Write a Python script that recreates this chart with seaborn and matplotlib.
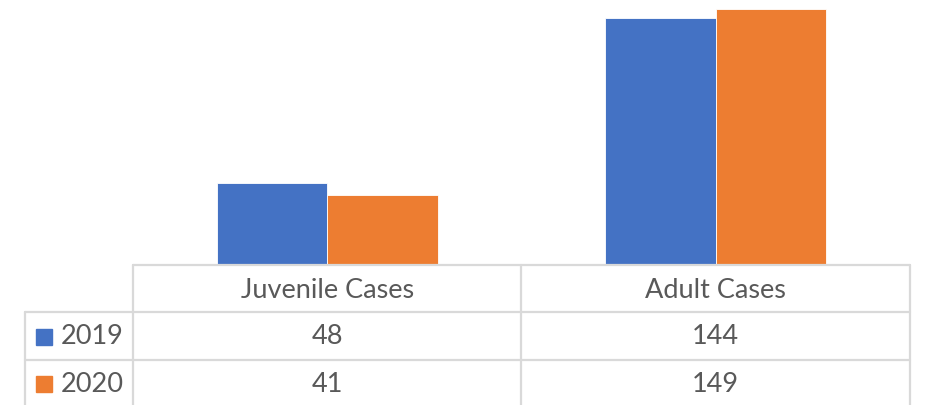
import seaborn as sns
import matplotlib.pyplot as plt
import pandas as pd

categories = ["Juvenile Cases", "Adult Cases"]
years = ["2019", "2020"]
cases_2019 = [48, 144]
cases_2020 = [41, 149]

colors = {"2019": "#4472C4", "2020": "#ED7D31"}
text_color = "#595959"
grid_color = "#D9D9D9"

df = pd.DataFrame({
    "category": categories * 2,
    "year": [years[0]] * 2 + [years[1]] * 2,
    "cases": cases_2019 + cases_2020,
})

sns.set_style("white")
plt.rcParams['font.family'] = ['Lato', 'DejaVu Sans']

W, H = 927, 405
fig = plt.figure(figsize=(W / 100, H / 100), dpi=100)

# pixel layout of the plot area
x0, x1, base = 133, 910, 265
ax = fig.add_axes([x0 / W, (H - base) / H, (x1 - x0) / W, base / H])
sns.barplot(data=df, x="category", y="cases", hue="year", order=categories,
            hue_order=years, palette=colors, width=0.57, edgecolor="white",
            linewidth=0.6, saturation=1, ax=ax)
ax.set_xlim(-0.5, 1.5)
ax.set_ylim(0, 154.2)
ax.get_legend().remove()
ax.set_axis_off()

# data table below the plot, drawn in pixel coordinates
tab = fig.add_axes([0, 0, 1, 1])
tab.set_xlim(0, W)
tab.set_ylim(H, 0)
tab.set_axis_off()

rows_y = [base, 312, 360, H + 5]
left = 25
col_x = [x0 + (x1 - x0) * i / len(categories) for i in range(len(categories) + 1)]
lw = 1.6

# horizontal lines
tab.plot([x0, x1], [rows_y[0], rows_y[0]], color=grid_color, lw=lw)
tab.plot([left, x1], [rows_y[1], rows_y[1]], color=grid_color, lw=lw)
tab.plot([left, x1], [rows_y[2], rows_y[2]], color=grid_color, lw=lw)
# vertical lines
for cx in col_x:
    tab.plot([cx, cx], [rows_y[0], rows_y[3]], color=grid_color, lw=lw)
tab.plot([left, left], [rows_y[1], rows_y[3]], color=grid_color, lw=lw)

fs = 19.5
for i, cat in enumerate(categories):
    cx = (col_x[i] + col_x[i + 1]) / 2
    tab.text(cx, 290, cat, ha="center", va="center",
             fontsize=fs, color=text_color)

series = [cases_2019, cases_2020]
row_centers = [337, 384]
for cy, yr, vals in zip(row_centers, years, series):
    tab.add_patch(plt.Rectangle((36, cy - 8), 16, 16, color=colors[yr]))
    tab.text(61, cy, yr, ha="left", va="center", fontsize=fs, color=text_color)
    for i, v in enumerate(vals):
        cx = (col_x[i] + col_x[i + 1]) / 2
        tab.text(cx, cy, str(v), ha="center", va="center", fontsize=fs,
                 color=text_color)

fig.savefig("out.png", dpi=100)
